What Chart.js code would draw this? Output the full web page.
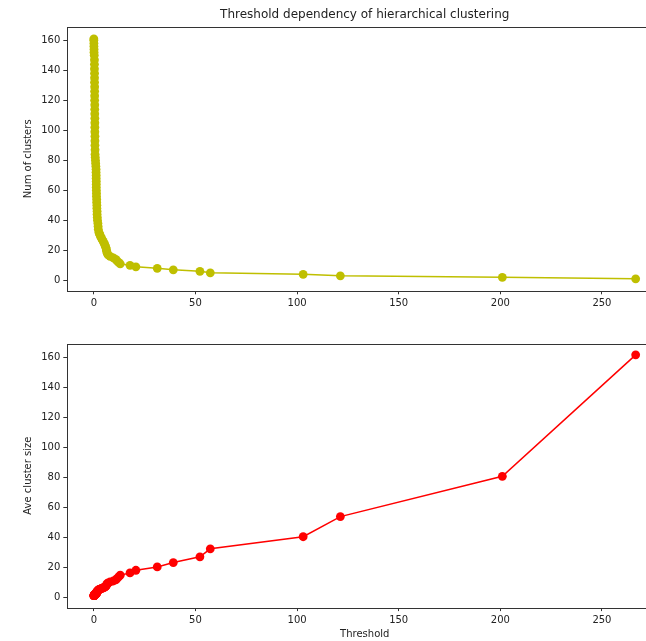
<!DOCTYPE html>
<html>
<head>
<meta charset="utf-8">
<script src="https://cdn.jsdelivr.net/npm/chart.js@4/dist/chart.umd.min.js"></script>
<style>
  html, body { margin: 0; padding: 0; background: #fff; overflow: hidden; width: 646px; height: 641px; }
  #top, #bottom { position: absolute; left: 0; }
  #top { top: 0; }
  #bottom { top: 320px; }
</style>
</head>
<body>
<canvas id="top" width="700" height="320"></canvas>
<canvas id="bottom" width="700" height="321"></canvas>
<script>
// threshold values (x)
const thresholds = [
  0.0, 0.0, 0.05, 0.05, 0.1, 0.1, 0.2, 0.3, 0.3, 0.3,
  0.35, 0.35, 0.35, 0.4, 0.4, 0.4, 0.4, 0.45, 0.45, 0.45,
  0.5, 0.5, 0.5, 0.5, 0.55, 0.55, 0.55, 0.6, 0.6, 0.7,
  0.8, 0.9, 1.0, 1.1, 1.1, 1.15, 1.15, 1.2, 1.2, 1.2,
  1.25, 1.3, 1.3, 1.4, 1.4, 1.5, 1.5, 1.6, 1.6, 1.7,
  1.8, 2.0, 2.1, 2.2, 2.5, 2.8, 3.1, 3.4, 3.8, 4.2,
  4.6, 5.0, 5.3, 5.6, 5.9, 6.1, 6.2, 6.4, 6.6, 7.0,
  8.0, 9.6, 10.8, 11.4, 12.2, 13.0, 17.8, 20.7, 31.2, 39.1,
  52.2, 57.3, 103.0, 121.3, 201.0, 266.6
];
const numClusters = [
  161, 160, 158, 156, 154, 152, 150, 147, 144, 141,
  138, 135, 132, 129, 126, 123, 120, 117, 114, 111,
  108, 105, 102, 99, 96, 93, 90, 87, 84, 82,
  80, 78, 76, 74, 72, 70, 68, 66, 64, 62,
  60, 58, 56, 54, 52, 50, 48, 46, 44, 42,
  40, 38, 36, 34, 32, 31, 30, 29, 28, 27,
  26, 25, 24, 23, 22, 21, 20, 19, 18, 17,
  16, 15, 14, 13, 12, 11, 10, 9, 8, 7,
  6, 5, 4, 3, 2, 1
];
const aveClusterSize = [
  1.0, 1.01, 1.02, 1.03, 1.05, 1.06, 1.07, 1.1, 1.12, 1.14,
  1.17, 1.19, 1.22, 1.25, 1.28, 1.31, 1.34, 1.38, 1.41, 1.45,
  1.49, 1.53, 1.58, 1.63, 1.68, 1.73, 1.79, 1.85, 1.92, 1.96,
  2.01, 2.06, 2.12, 2.18, 2.24, 2.3, 2.37, 2.44, 2.52, 2.6,
  2.68, 2.78, 2.88, 2.98, 3.1, 3.22, 3.35, 3.5, 3.66, 3.83,
  4.03, 4.24, 4.47, 4.74, 5.03, 5.19, 5.37, 5.55, 5.75, 5.96,
  6.19, 6.44, 6.71, 7.0, 7.32, 7.67, 8.05, 8.47, 8.94, 9.47,
  10.06, 10.73, 11.5, 12.38, 13.42, 14.64, 16.1, 17.89, 20.13, 23.0,
  26.83, 32.2, 40.25, 53.67, 80.5, 161.5
];
const xTicks = [0, 50, 100, 150, 200, 250];
const yTicks = [0, 20, 40, 60, 80, 100, 120, 140, 160];

const font = { family: "DejaVu Sans", size: 10 };
const spine = "#333";

// box round the plot area, like matplotlib spines
const frame = {
  id: "frame",
  afterDraw(chart) {
    const a = chart.chartArea, c = chart.ctx;
    c.save();
    c.strokeStyle = spine;
    c.lineWidth = 1;
    c.strokeRect(Math.round(a.left) + 0.5, Math.round(a.top) + 0.5,
      Math.round(a.right - a.left), Math.round(a.bottom - a.top));
    c.restore();
  }
};

// center the title over the axes, not the whole canvas
const centerTitle = {
  id: "centerTitle",
  afterLayout(chart) {
    const t = chart.titleBlock;
    if (t) { t.left = chart.chartArea.left; t.right = chart.chartArea.right; t.width = t.right - t.left; }
  }
};

function makeChart(id, values, color, yLabel, opts) {
  const pts = thresholds.map((x, i) => ({ x: x, y: values[i] }));
  return new Chart(document.getElementById(id), {
    type: "line",
    data: {
      datasets: [{
        data: pts,
        borderColor: color,
        backgroundColor: color,
        borderWidth: 1.5,
        pointRadius: 4.4,
        pointBorderWidth: 0,
        pointBackgroundColor: color,
        tension: 0,
        fill: false
      }]
    },
    options: {
      responsive: false,
      animation: false,
      layout: { padding: opts.padding },
      plugins: {
        legend: { display: false },
        tooltip: { enabled: false },
        title: opts.title
      },
      scales: {
        x: {
          type: "linear",
          min: -13.3,
          max: 279.9,
          afterBuildTicks: s => { s.ticks = xTicks.map(v => ({ value: v })); },
          afterFit: s => { s.height = opts.xHeight; },
          ticks: { font: font, color: "#222", padding: 3, maxRotation: 0 },
          grid: { drawOnChartArea: false, drawTicks: true, tickLength: 3.5, color: spine },
          border: { display: false },
          title: opts.xTitle
        },
        y: {
          min: -7,
          max: 169,
          afterBuildTicks: s => { s.ticks = yTicks.map(v => ({ value: v })); },
          afterFit: s => { s.width = 48.8; },
          ticks: { font: font, color: "#222", padding: 3 },
          grid: { drawOnChartArea: false, drawTicks: true, tickLength: 3.5, color: spine },
          border: { display: false },
          title: { display: true, text: yLabel, font: font, color: "#222", padding: { top: 4, bottom: 4 } }
        }
      }
    },
    plugins: [frame, centerTitle]
  });
}

makeChart("top", numClusters, "#bfbf00", "Num of clusters", {
  padding: { top: 0, left: 18, right: 37.3, bottom: 0 },
  xHeight: 29.2,
  title: {
    display: true,
    text: "Threshold dependency of hierarchical clustering",
    font: { family: "DejaVu Sans", size: 12, weight: "normal" },
    color: "#222",
    padding: { top: 8, bottom: 4.4 }
  },
  xTitle: { display: false }
});

makeChart("bottom", aveClusterSize, "#ff0000", "Ave cluster size", {
  padding: { top: 23.6, left: 18, right: 37.3, bottom: 0 },
  xHeight: 33.4,
  title: { display: false },
  xTitle: { display: true, text: "Threshold", font: font, color: "#222", padding: { top: 2, bottom: 1 } }
});
</script>
</body>
</html>
